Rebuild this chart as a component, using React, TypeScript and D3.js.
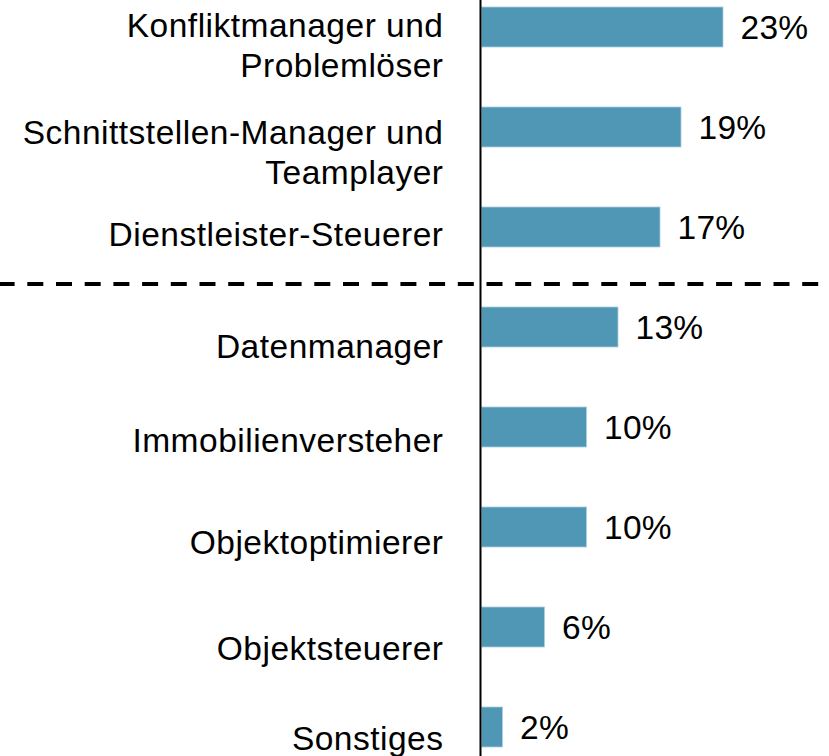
import React from "react";
import * as d3 from "d3";

const categories: string[][] = [
  ["Konfliktmanager und", "Problemlöser"],
  ["Schnittstellen-Manager und", "Teamplayer"],
  ["Dienstleister-Steuerer"],
  ["Datenmanager"],
  ["Immobilienversteher"],
  ["Objektoptimierer"],
  ["Objektsteuerer"],
  ["Sonstiges"],
];
const values: number[] = [23, 19, 17, 13, 10, 10, 6, 2];
const valueLabels: string[] = ["23%", "19%", "17%", "13%", "10%", "10%", "6%", "2%"];

// layout nudges for category label baselines (relative to bar centre)
const labelBaselineDy = [10, 17, 19, 31, 25, 27, 33, 23];

const W = 829;
const H = 756;
const FONT = "'Liberation Sans', Arial, sans-serif";
const FS = 33.5;

export default function App() {
  const keys = categories.map((_, i) => String(i));
  const y = d3.scaleBand<string>().domain(keys).range([7, 747]).paddingInner(0.6).paddingOuter(0);
  const x = d3.scaleLinear().domain([0, 23]).range([481.5, 723]);
  const bw = y.bandwidth();
  const dashY = (y("2")! + bw + y("3")!) / 2 + 7;

  return (
    <svg
      width={W}
      height={H}
      style={{ position: "absolute", left: 0, top: 0, background: "#fff" }}
      fontFamily={FONT}
    >
      <rect x={0} y={0} width={W} height={H} fill="#fff" />
      {values.map((v, i) => {
        const cy = y(keys[i])! + bw / 2;
        return (
          <g key={i}>
            <rect
              x={x(0)}
              y={y(keys[i])}
              width={x(v) - x(0)}
              height={bw}
              fill="#4f97b4"
              stroke="#a9d0df"
              strokeWidth={0.8}
            />
            <text x={x(v) + 17.5} y={cy + 12} fontSize={FS} fill="#000" letterSpacing={0.3}>
              {valueLabels[i]}
            </text>
            <text textAnchor="end" fontSize={FS} fill="#000" letterSpacing={0.5}>
              {categories[i].map((line, j) => (
                <tspan key={j} x={443.5} y={cy + labelBaselineDy[i] + j * 40}>
                  {line}
                </tspan>
              ))}
            </text>
          </g>
        );
      })}
      <line x1={480.5} x2={480.5} y1={0} y2={H} stroke="#000" strokeWidth={2} />
      <line
        x1={0}
        x2={W}
        y1={dashY}
        y2={dashY}
        stroke="#000"
        strokeWidth={4}
        strokeDasharray="16 12.7"
        strokeDashoffset={1.4}
      />
    </svg>
  );
}
